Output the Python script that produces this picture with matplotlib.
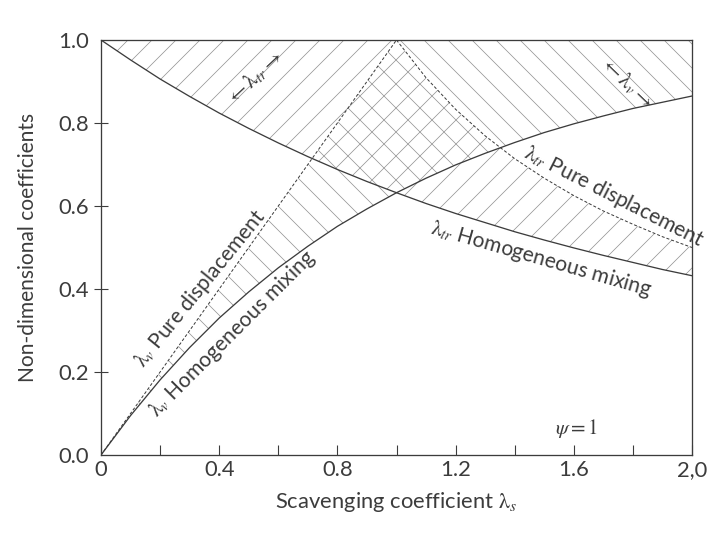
import numpy as np
import matplotlib.pyplot as plt

# %% Data (scavenging coefficient grid, step 0.1)
lam_s = [0.0, 0.1, 0.2, 0.3, 0.4, 0.5, 0.6, 0.7, 0.8, 0.9, 1.0,
         1.1, 1.2, 1.3, 1.4, 1.5, 1.6, 1.7, 1.8, 1.9, 2.0]

# trapped-air / delivery ratios
lv_mixing = [0.0, 0.095, 0.181, 0.259, 0.330, 0.393, 0.451, 0.503, 0.551, 0.593, 0.632,
             0.667, 0.699, 0.727, 0.753, 0.777, 0.798, 0.817, 0.835, 0.850, 0.865]
lv_displacement = [0.0, 0.1, 0.2, 0.3, 0.4, 0.5, 0.6, 0.7, 0.8, 0.9, 1.0,
                   1.0, 1.0, 1.0, 1.0, 1.0, 1.0, 1.0, 1.0, 1.0, 1.0]
ltr_mixing = [1.0, 0.952, 0.906, 0.864, 0.824, 0.787, 0.752, 0.719, 0.688, 0.659, 0.632,
              0.606, 0.582, 0.560, 0.538, 0.518, 0.499, 0.481, 0.464, 0.447, 0.432]
ltr_displacement = [1.0, 1.0, 1.0, 1.0, 1.0, 1.0, 1.0, 1.0, 1.0, 1.0, 1.0,
                    0.909, 0.833, 0.769, 0.714, 0.667, 0.625, 0.588, 0.556, 0.526, 0.5]

x_ticks = [0.0, 0.4, 0.8, 1.2, 1.6, 2.0]
x_ticklabels = ['0', '0.4', '0.8', '1.2', '1.6', '2,0']
x_minor = [0.2, 0.6, 1.0, 1.4, 1.8]
y_ticks = [0.0, 0.2, 0.4, 0.6, 0.8, 1.0]
y_ticklabels = ['0.0', '0.2', '0.4', '0.6', '0.8', '1.0']

# %% Style
plt.rcParams['font.family'] = ['Lato', 'DejaVu Sans']
plt.rcParams['mathtext.fontset'] = 'stix'
plt.rcParams['hatch.linewidth'] = 0.7

ink = '#3c3c3c'
hatch_col = '#8f8f8f'

fig = plt.figure(figsize=(707 / 72, 533 / 72), dpi=72)
ax = fig.add_axes([101 / 707, 78 / 533, 591 / 707, 415 / 533])

x = np.array(lam_s)

# %% Hatched bands
ax.fill_between(x, ltr_mixing, ltr_displacement, facecolor='none',
                edgecolor=hatch_col, linewidth=0, hatch='/')
ax.fill_between(x, lv_mixing, lv_displacement, facecolor='none',
                edgecolor=hatch_col, linewidth=0, hatch='\\')

# %% Curves
ax.plot(x, lv_mixing, color=ink, lw=1.3)
ax.plot(x, ltr_mixing, color=ink, lw=1.3)
ax.plot(x[:11], lv_displacement[:11], color=ink, lw=1.0, ls=(0, (3, 2)))
ax.plot(x[10:], ltr_displacement[10:], color=ink, lw=1.0, ls=(0, (3, 2)))

# %% Axes
ax.set_xlim(0, 2.0)
ax.set_ylim(0, 1.0)
for s in ax.spines.values():
    s.set_color(ink)
    s.set_linewidth(1.3)

ax.set_xticks(x_ticks)
ax.set_xticklabels(x_ticklabels)
ax.set_xticks(x_minor, minor=True)
ax.set_yticks(y_ticks)
ax.set_yticklabels(y_ticklabels)
ax.tick_params(axis='x', which='both', direction='in', length=10, width=1.1,
               color=ink, labelsize=22, labelcolor=ink, pad=5)
ax.tick_params(axis='y', direction='inout', length=14, width=1.1,
               color=ink, labelsize=22, labelcolor=ink, pad=5)
ax.yaxis.get_major_ticks()[0].tick1line.set_visible(False)
ax.yaxis.get_major_ticks()[-1].tick1line.set_visible(False)

ax.set_xlabel(r'Scavenging coefficient $\mathrm{\lambda}_s$', fontsize=22, color=ink, labelpad=10)
ax.set_ylabel('Non-dimensional coefficients', fontsize=21, color=ink, labelpad=20)

# %% Annotations
tkw = dict(color=ink, ha='left', va='baseline', rotation_mode='anchor')
ax.text(0.142, 0.21, r'$\mathrm{\lambda}_v$ Pure displacement', fontsize=21, rotation=51, **tkw)
ax.text(0.19, 0.089, r'$\mathrm{\lambda}_v$ Homogeneous mixing', fontsize=21, rotation=45, **tkw)
ax.text(1.428, 0.718, r'$\mathrm{\lambda}_{tr}$ Pure displacement', fontsize=21, rotation=-27, **tkw)
ax.text(1.113, 0.535, r'$\mathrm{\lambda}_{tr}$ Homogeneous mixing', fontsize=21, rotation=-16, **tkw)

ckw = dict(color=ink, ha='center', va='center', rotation_mode='anchor')
ax.text(0.52, 0.908, r'$\leftarrow\mathrm{\lambda}_{tr}\rightarrow$', fontsize=21, rotation=43, **ckw)
ax.text(1.777, 0.899, r'$\leftarrow\mathrm{\lambda}_v\rightarrow$', fontsize=21, rotation=-44, **ckw)
ax.text(1.61, 0.065, r'$\psi = 1$', fontsize=21, **ckw)

fig.savefig('out.png', dpi=72)
